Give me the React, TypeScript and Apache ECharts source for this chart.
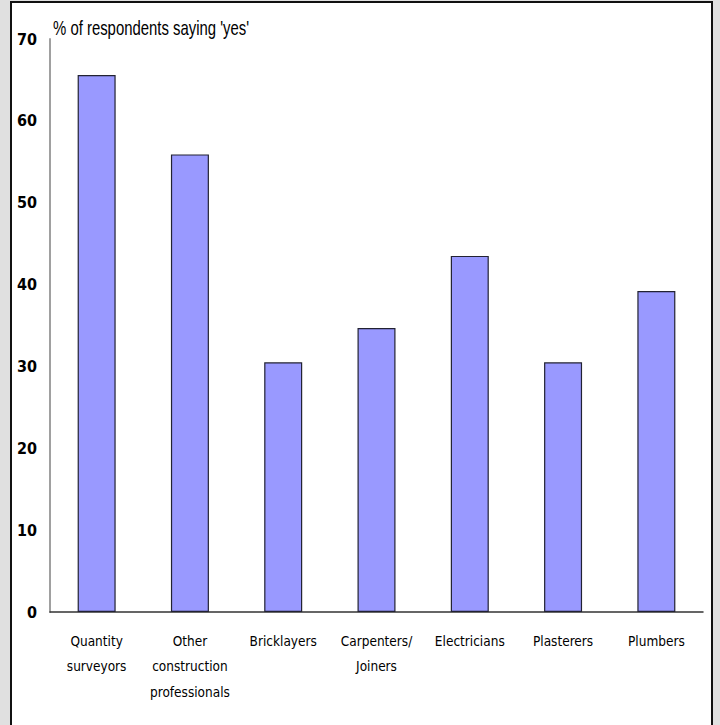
import React, { useEffect, useRef } from "react";
import * as echarts from "echarts";

const categories = [
  "Quantity\nsurveyors",
  "Other\nconstruction\nprofessionals",
  "Bricklayers",
  "Carpenters/\nJoiners",
  "Electricians",
  "Plasterers",
  "Plumbers",
];
const yesShare = [65.6, 55.9, 30.5, 34.7, 43.5, 30.5, 39.2];
const yTitle = "% of respondents saying 'yes'";

const FONT = "'Liberation Sans Narrow', 'DejaVu Sans Condensed', 'Liberation Sans', Arial, sans-serif";

export default function App() {
  const ref = useRef<HTMLDivElement>(null);

  useEffect(() => {
    if (!ref.current) return;
    const chart = echarts.init(ref.current, undefined, { renderer: "svg" });
    chart.setOption({
      animation: false,
      backgroundColor: "#e0e0e0",
      graphic: [
        {
          type: "rect",
          z: -10,
          shape: { x: 11, y: 2, width: 701, height: 740 },
          style: { fill: "#ffffff", stroke: "#111111", lineWidth: 2 },
        },
        {
          // condensed axis title
          type: "text",
          x: 53,
          y: 28,
          scaleX: 0.745,
          style: {
            text: yTitle,
            font: `20px 'Liberation Sans', Arial, sans-serif`,
            fill: "#000000",
            verticalAlign: "middle",
            align: "left",
          },
        },
      ],
      grid: { left: 50, right: 17, top: 39, bottom: 113 },
      xAxis: {
        type: "category",
        data: categories,
        axisLine: { lineStyle: { color: "#333333", width: 1.5 } },
        axisTick: { show: false },
        axisLabel: {
          interval: 0,
          margin: 16,
          color: "#000000",
          fontFamily: FONT,
          fontSize: 13.5,
          lineHeight: 25.5,
          verticalAlign: "top",
        },
      },
      yAxis: {
        type: "value",
        min: 0,
        max: 70,
        interval: 10,
        axisLine: { show: true, lineStyle: { color: "#a0a0a0", width: 2 } },
        axisTick: { show: false },
        splitLine: { show: false },
        axisLabel: {
          margin: 13,
          color: "#000000",
          fontFamily: FONT,
          fontSize: 16,
          fontWeight: "bold",
        },
      },
      series: [
        {
          type: "bar",
          data: yesShare,
          barWidth: 38,
          itemStyle: { color: "#9999ff", borderColor: "#222233", borderWidth: 1.2 },
        },
      ],
    });
    return () => chart.dispose();
  }, []);

  return (
    <div
      ref={ref}
      style={{ position: "fixed", left: 0, top: 0, width: 720, height: 725 }}
    />
  );
}
